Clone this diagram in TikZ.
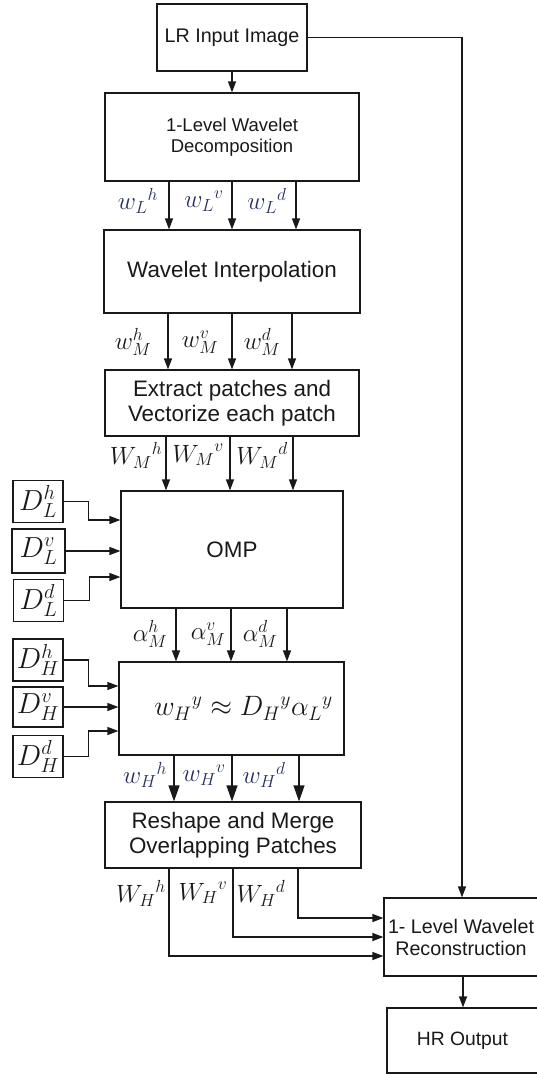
\RequirePackage{fix-cm}
\documentclass[tikz,border=0pt]{standalone}
\usepackage{fontspec}
\setsansfont{Liberation Sans}
\usetikzlibrary{arrows.meta}
\definecolor{ink}{rgb}{0.1,0.1,0.1}
\definecolor{bluelab}{rgb}{0.16,0.19,0.36}
\tikzset{
 box/.style={draw=ink, line width=1.2pt, inner sep=0pt, align=center, text=ink, font=\sffamily\fontsize{22.4}{25}\selectfont},
 dbox/.style={draw=ink, line width=1.2pt, inner sep=0pt, minimum width=50pt, minimum height=42pt, text=ink, font=\fontsize{29}{30}\selectfont},
 lab/.style={inner sep=0pt, text=ink, font=\fontsize{25}{28}\selectfont},
 blab/.style={lab, text=bluelab},
 arr/.style={draw=ink, line width=1.2pt, -{Triangle[width=8pt,length=11pt]}},
 bigarr/.style={draw=ink, line width=1.2pt, -{Triangle[width=11pt,length=16pt]}},
}
\begin{document}
\begin{tikzpicture}[x=1pt,y=-1pt]
\useasboundingbox (0,0) rectangle (536,1074);
% main boxes
\node[box, minimum width=150pt, minimum height=67pt, font=\sffamily\fontsize{19.7}{22}\selectfont] (lr) at (232,37.5) {LR Input Image};
\node[box, minimum width=254pt, minimum height=88pt, font=\sffamily\fontsize{18.5}{21}\selectfont] (dec) at (232,137) {1-Level Wavelet\\Decomposition};
\node[box, minimum width=256pt, minimum height=83pt] (int) at (232,271.5) {Wavelet Interpolation};
\node[box, minimum width=254pt, minimum height=66pt] (ext) at (232,403) {Extract patches and\\Vectorize each patch};
\node[box, minimum width=222pt, minimum height=117pt] (omp) at (232,549.5) {OMP};
\node[box, minimum width=225pt, minimum height=93pt, font=\fontsize{28}{30}\selectfont] (est) at (231.5,708.5) {\hspace*{24pt}$w_H{}^y \approx D_H{}^y\alpha_L{}^y$};
\node[box, minimum width=256pt, minimum height=66pt] (rs) at (233,835) {Reshape and Merge\\Overlapping Patches};
\node[box, minimum width=154pt, minimum height=78pt, font=\sffamily\fontsize{19.7}{22}\selectfont] (rec) at (461,937) {1- Level Wavelet\\Reconstruction};
\node[box, minimum width=151pt, minimum height=65pt, font=\sffamily\fontsize{19.3}{22}\selectfont] (hr) at (462.5,1040.5) {HR Output};
% dictionary boxes
\node[dbox] (dlh) at (38,501.5) {$D_L^h$};
\node[dbox, minimum width=53pt, minimum height=44pt] (dlv) at (38.5,551) {$D_L^v$};
\node[dbox] (dld) at (38.5,600.5) {$D_L^d$};
\node[dbox] (dhh) at (38,660) {$D_H^h$};
\node[dbox, minimum height=40pt] (dhv) at (38,707) {$D_H^v$};
\node[dbox] (dhd) at (38,756.5) {$D_H^d$};
% vertical arrows
\draw[arr] (lr.south) -- (dec.north);
\foreach \o in {-63,0,64} \draw[arr] ([xshift=\o pt]dec.south) -- ([xshift=\o pt]int.north);
\foreach \o in {-64,0,60} \draw[arr] ([xshift=\o pt]int.south) -- ([xshift=\o pt]ext.north);
\foreach \o in {-66,-2,61} \draw[arr] ([xshift=\o pt]ext.south) -- ([xshift=\o pt]ext.south |- omp.north);
\foreach \o in {-56,-1,55} \draw[arr] ([xshift=\o pt]omp.south) -- ([xshift=\o pt]omp.south |- est.north);
\foreach \o in {-57.5,0.5,67.5} \draw[bigarr] ([xshift=\o pt]est.south) -- ([xshift=\o pt]est.south |- rs.north);
% dictionary arrows
\draw[arr] (dlh.east) -- ++(25,0) |- ([yshift=29.5pt]omp.west);
\draw[arr] (dlv.east) -- (dlv.east -| omp.west);
\draw[arr] (dld.east) -- ++(25,0) |- ([yshift=-27.5pt]omp.west);
\draw[arr] (dhh.east) -- ++(25,0) |- ([yshift=22.5pt]est.west);
\draw[arr] (dhv.east) -- (dhv.east -| est.west);
\draw[arr] (dhd.east) -- ++(25,0) |- ([yshift=-22.5pt]est.west);
% reconstruction arrows
\draw[arr] ([xshift=-64pt]rs.south) |- ([yshift=-19pt]rec.west);
\draw[arr] (rs.south) |- (rec.west);
\draw[arr] ([xshift=65pt]rs.south) |- ([yshift=19pt]rec.west);
\draw[arr] (lr.east) -| ([xshift=1pt]rec.north);
\draw[arr] ([xshift=2pt]rec.south) -- ([xshift=2pt]rec.south |- hr.north);
% labels
\node[blab] (l1) at (138,201) {${w_L}^h$};
\node[blab] (l2) at (204,201) {${w_L}^v$};
\node[blab] (l3) at (267,201) {${w_L}^d$};
\node[lab] (m1) at (133,342) {$w_M^h$};
\node[lab] (m2) at (200,342) {$w_M^v$};
\node[lab] (m3) at (262,342) {$w_M^d$};
\node[lab] (n1) at (136,455) {${W_M}^h$};
\node[lab] (n2) at (198,455) {${W_M}^v$};
\node[lab] (n3) at (262,455) {${W_M}^d$};
\node[lab] (a1) at (150,634) {$\alpha_M^h$};
\node[lab] (a2) at (208,634) {$\alpha_M^v$};
\node[lab] (a3) at (260,634) {$\alpha_M^d$};
\node[blab] (h1) at (145,775) {${w_H}^h$};
\node[blab] (h2) at (204,775) {${w_H}^v$};
\node[blab] (h3) at (264,775) {${w_H}^d$};
\node[lab] (k1) at (141,893) {${W_H}^h$};
\node[lab] (k2) at (203,893) {${W_H}^v$};
\node[lab] (k3) at (261,893) {${W_H}^d$};
\end{tikzpicture}
\end{document}
